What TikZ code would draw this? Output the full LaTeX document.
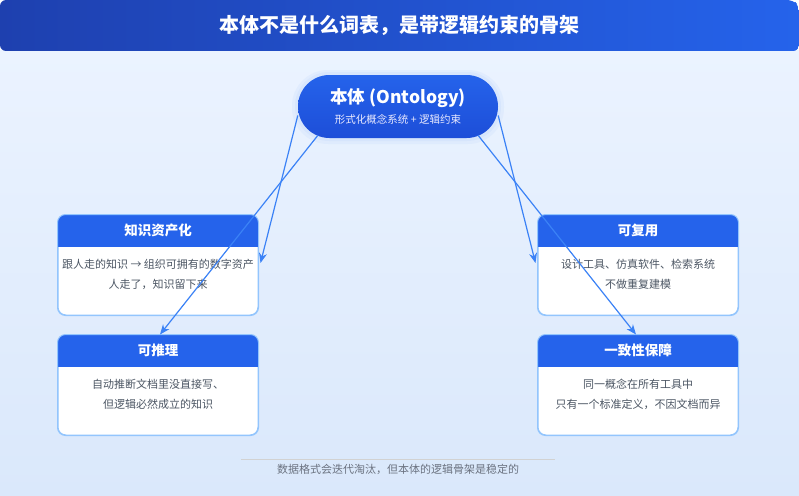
\documentclass[tikz,border=0pt]{standalone}
\usepackage{fontspec}
\setmainfont{Noto Sans CJK SC}
\usetikzlibrary{arrows.meta}
\definecolor{hdblue}{HTML}{2563EB}
\definecolor{deepblue}{HTML}{1E40AF}
\definecolor{linkblue}{HTML}{3B82F6}
\definecolor{edgeblue}{HTML}{93C5FD}
\definecolor{bodygray}{HTML}{4B5563}
\definecolor{notegray}{HTML}{6B7280}
\begin{document}
\begin{tikzpicture}[x=1pt,y=-1pt,>={Stealth[length=10pt,width=8pt]},
	card/.style={draw=edgeblue,line width=1pt,fill=white,rounded corners=8pt,minimum width=200pt,minimum height=100pt},
	cardtitle/.style={text=white,font=\bfseries\fontsize{13.5}{16}\selectfont},
	cardtext/.style={text=bodygray,font=\fontsize{11}{13}\selectfont},
	link/.style={->,draw=linkblue,line width=1.2pt}]
	\useasboundingbox (0,0) rectangle (799,495);
	\shade[top color={rgb,255:red,235;green,243;blue,255},bottom color={rgb,255:red,218;green,232;blue,251}] (0,51) rectangle (799,495);
	\shade[left color=deepblue,right color=hdblue,rounded corners=6pt] (0,0) -- (793,0) -- (799,6) |- (0,51) -- cycle;
	\node[text=white,font=\bfseries\fontsize{20}{24}\selectfont] (title) at (399.5,25) {本体不是什么词表，是带逻辑约束的骨架};
	% ontology pill
	\fill[linkblue,opacity=0.05,rounded corners=36pt] (292,70) rectangle (504,144);
	\fill[linkblue,opacity=0.05,rounded corners=34pt] (295,72) rectangle (501,141);
	\node[top color=hdblue,bottom color={rgb,255:red,29;green,78;blue,216},rounded corners=31.5pt,minimum width=200pt,minimum height=63pt,align=center,text=white] (ont) at (398,106.5)
		{{\bfseries\fontsize{17.5}{20}\selectfont 本体 (Ontology)}\\[5pt]{\color{blue!8}\fontsize{10.5}{12}\selectfont 形式化概念系统 + 逻辑约束}};
	% cards
	\foreach \nm/\cx/\cy/\ttl/\la/\lb in {asset/158/265/知识资产化/{跟人走的知识 → 组织可拥有的数字资产}/{人走了，知识留下来},
		infer/158/385/可推理/{自动推断文档里没直接写、}/{但逻辑必然成立的知识},
		reuse/638/265/可复用/{设计工具、仿真软件、检索系统}/{不做重复建模},
		consist/638/385/一致性保障/{同一概念在所有工具中}/{只有一个标准定义，不因文档而异}}{
		\node[card] (\nm) at (\cx,\cy) {};
		\begin{scope}
			\clip[rounded corners=8pt] (\nm.north west) rectangle (\nm.south east);
			\fill[hdblue] (\nm.north west) rectangle ([yshift=-32pt]\nm.north east);
		\end{scope}
		\draw[edgeblue,line width=1pt,rounded corners=8pt] (\nm.north west) rectangle (\nm.south east);
		\node[cardtitle] (\nm-t) at ([yshift=-16pt]\nm.north) {\ttl};
		\node[cardtext] (\nm-a) at ([yshift=-50pt]\nm.north) {\la};
		\node[cardtext] (\nm-b) at ([yshift=-70pt]\nm.north) {\lb};
	}
	% footer
	\node[text=notegray,font=\fontsize{11}{13}\selectfont] (note) at (398,469) {数据格式会迭代淘汰，但本体的逻辑骨架是稳定的};
	\draw[gray!35,line width=0.6pt] ([xshift=-32pt,yshift=1pt]note.north west) -- ([xshift=32pt,yshift=1pt]note.north east);
	% links
	\draw[link] ([yshift=-9pt]ont.west) -- ([xshift=2pt,yshift=2pt]asset.east);
	\draw[link] ([xshift=-80pt,yshift=3pt]ont.south) -- ([xshift=2pt]infer.north);
	\draw[link] ([yshift=-9pt]ont.east) -- ([xshift=-2pt,yshift=2pt]reuse.east -| reuse.west);
	\draw[link] ([xshift=80pt,yshift=3pt]ont.south) -- ([xshift=-2pt]consist.north);
\end{tikzpicture}
\end{document}
